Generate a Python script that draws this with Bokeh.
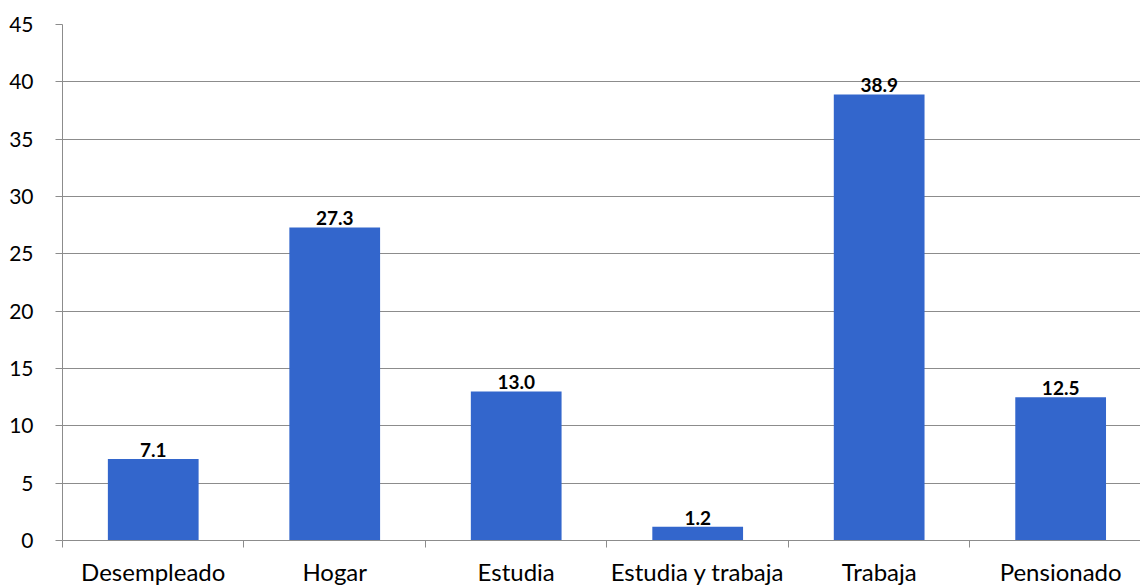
from bokeh.plotting import figure
from bokeh.models import ColumnDataSource, FixedTicker, Range1d, LabelSet
from bokeh.core.properties import value
from bokeh.embed import file_html
from bokeh.resources import INLINE

categories = ["Desempleado", "Hogar", "Estudia", "Estudia y trabaja", "Trabaja", "Pensionado"]
values = [7.1, 27.3, 13.0, 1.2, 38.9, 12.5]
y_ticks = [0, 5, 10, 15, 20, 25, 30, 35, 40, 45]

xs = [i + 0.5 for i in range(len(categories))]
src = ColumnDataSource(dict(x=xs, top=values, lab=[f"{v:.1f}" for v in values]))

FONT = "Lato"
GRAY = "#8c8c8c"

p = figure(width=1140, height=588, output_backend="svg", toolbar_location=None,
           x_range=Range1d(0, 5.94), y_range=Range1d(0, 45),
           min_border_left=62, min_border_right=0, min_border_top=24, min_border_bottom=47)
p.outline_line_color = None
p.background_fill_color = "white"
p.border_fill_color = "white"

p.vbar(x="x", top="top", width=0.5, source=src, color="#3366CC", line_color=None)

labels = LabelSet(x="x", y="top", text="lab", source=src, text_align="center",
                  text_baseline="bottom", y_offset=2, text_font=value(FONT),
                  text_font_style="bold", text_font_size="19px", text_color="black")
p.add_layout(labels)

# y axis
p.yaxis.ticker = FixedTicker(ticks=y_ticks)
p.yaxis.axis_line_color = GRAY
p.yaxis.major_tick_line_color = GRAY
p.yaxis.major_tick_out = 7
p.yaxis.major_tick_in = 0
p.yaxis.minor_tick_line_color = None
p.yaxis.major_label_text_font = FONT
p.yaxis.major_label_text_font_size = "21px"
p.yaxis.major_label_text_color = "black"
p.yaxis.major_label_standoff = 22
p.ygrid.grid_line_color = GRAY
p.ygrid.ticker = FixedTicker(ticks=y_ticks)

# x axis: labels at centers, tick marks at boundaries (minor ticks)
p.xaxis.ticker = FixedTicker(ticks=xs, minor_ticks=list(range(len(categories) + 1)))
p.xaxis.major_label_overrides = {x: c for x, c in zip(xs, categories)}
p.xaxis.major_tick_line_color = None
p.xaxis.major_tick_out = 0
p.xaxis.major_tick_in = 0
p.xaxis.minor_tick_line_color = GRAY
p.xaxis.minor_tick_out = 7
p.xaxis.minor_tick_in = 0
p.xaxis.axis_line_color = GRAY
p.xaxis.major_label_text_font = FONT
p.xaxis.major_label_text_font_size = "24px"
p.xaxis.major_label_text_color = "black"
p.xaxis.major_label_standoff = 9
p.xgrid.grid_line_color = None

open("out.html", "w").write(file_html(p, INLINE))
